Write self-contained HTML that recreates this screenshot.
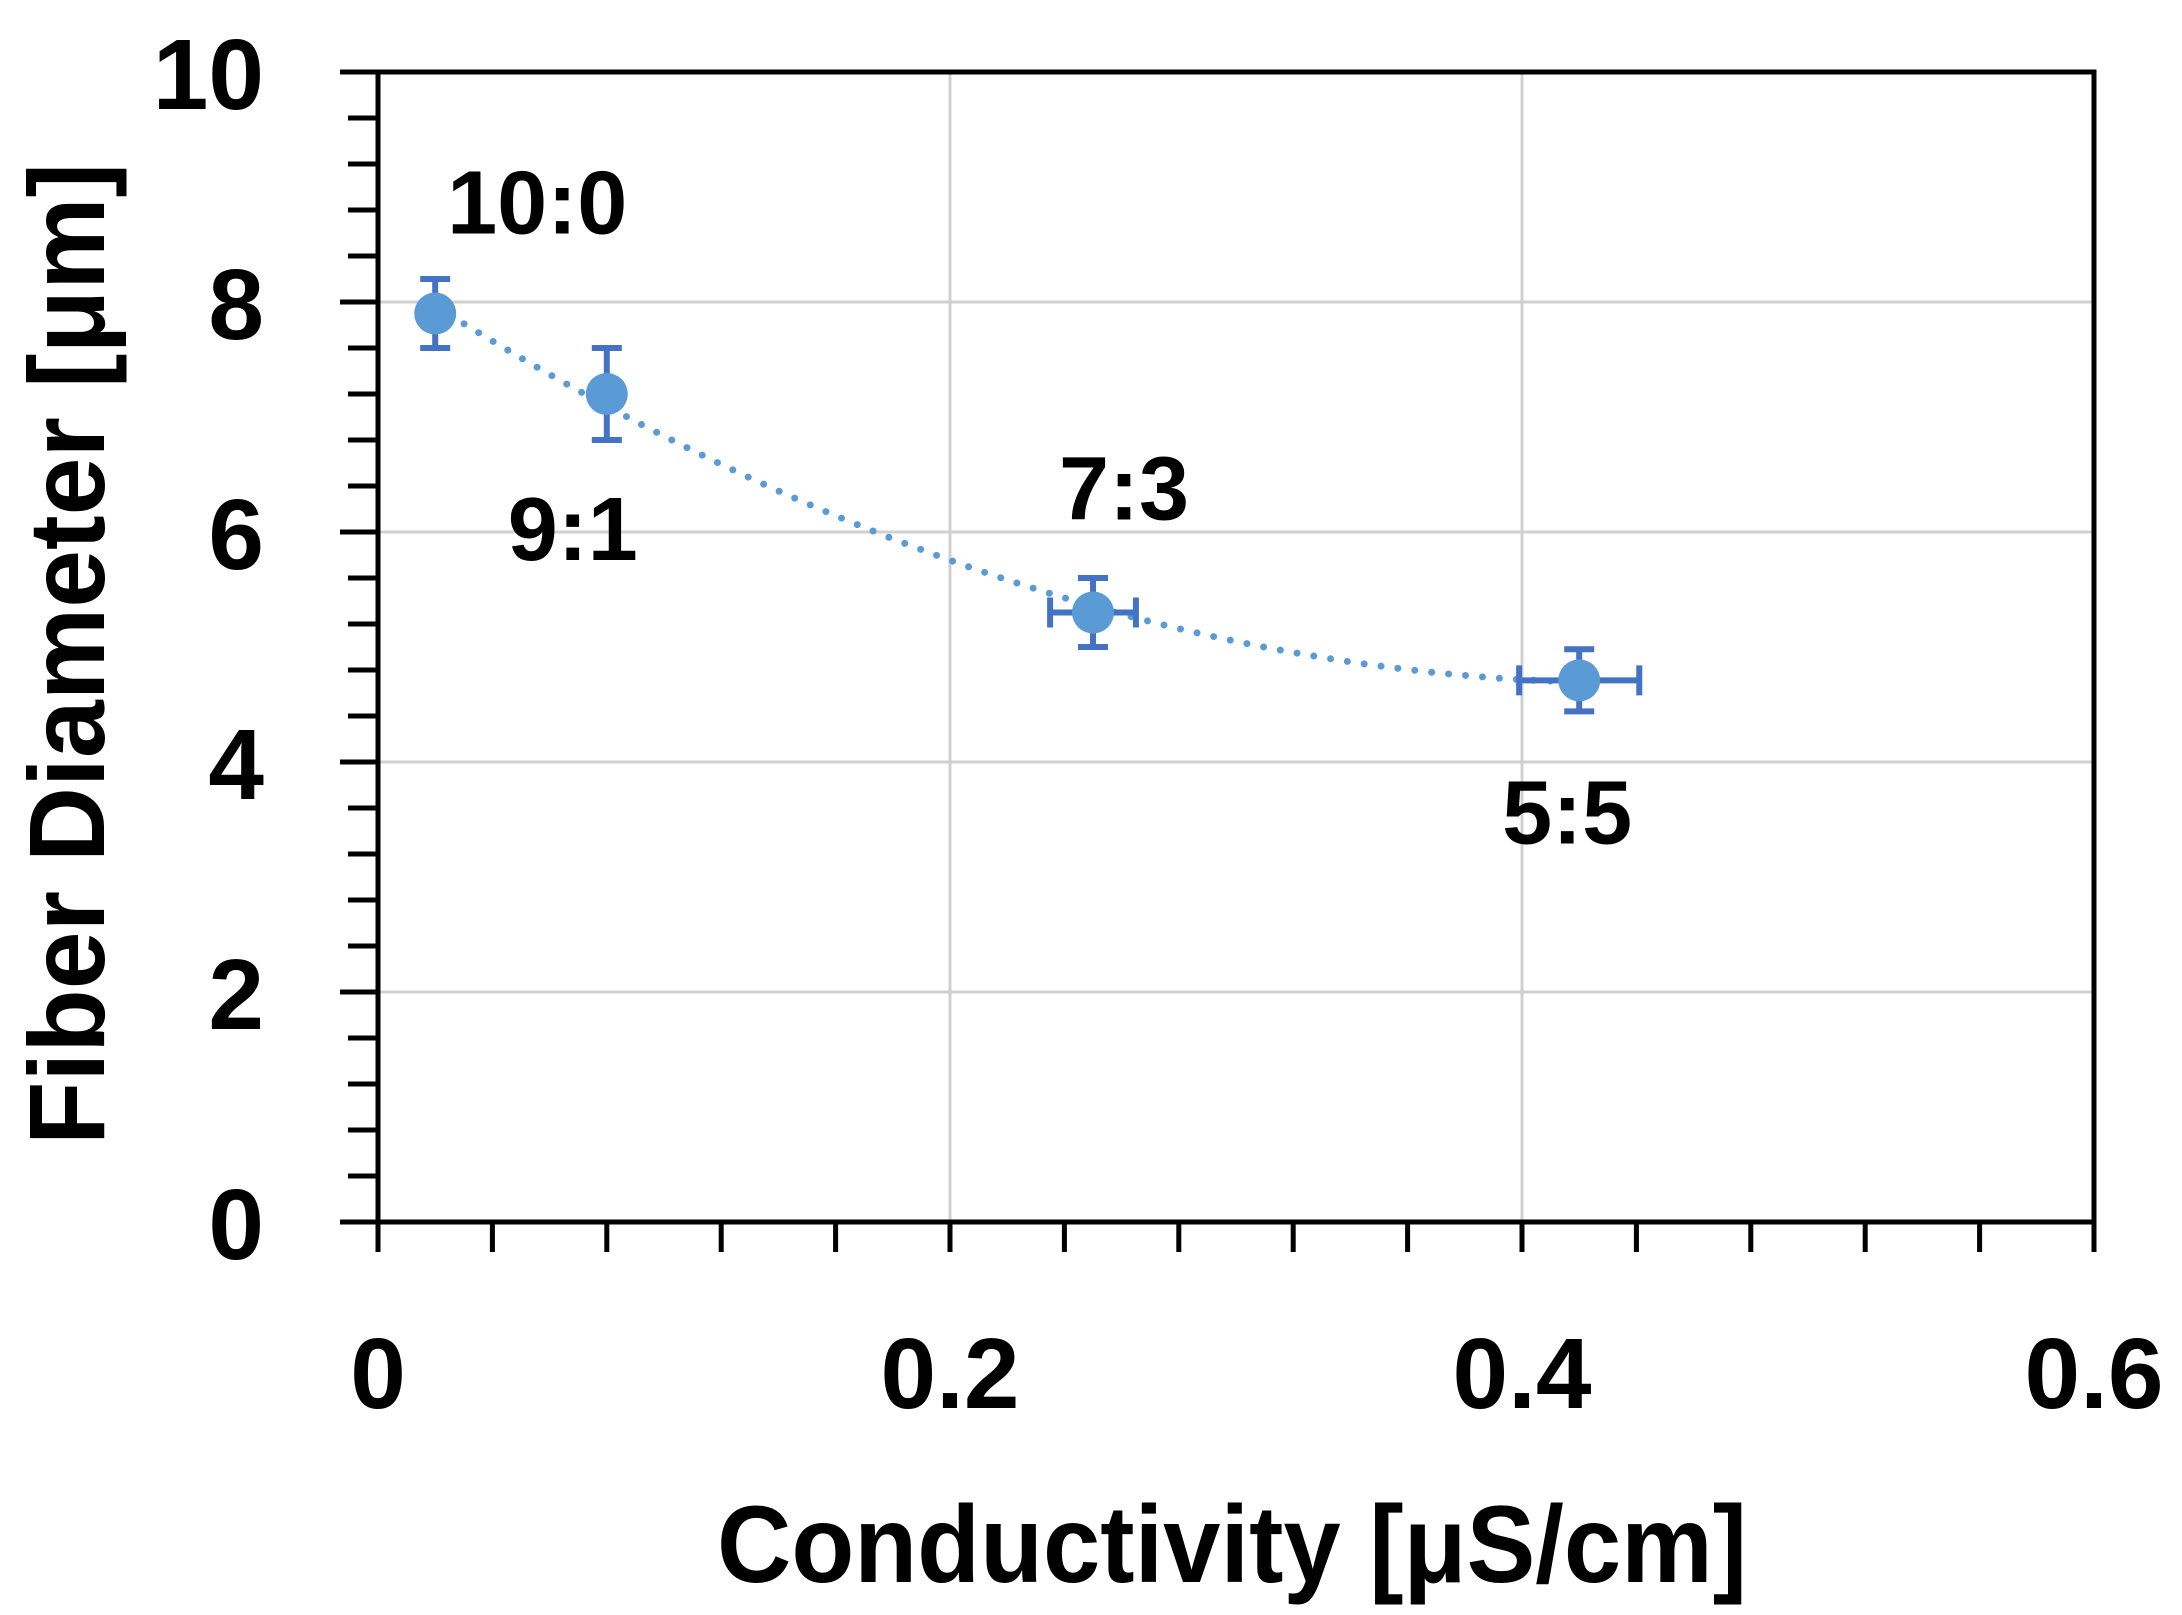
<!DOCTYPE html>
<html><head><meta charset="utf-8"><style>
html,body{margin:0;padding:0;background:#fff;}
svg{display:block;}
text{font-family:"Liberation Sans",sans-serif;font-weight:bold;fill:#000;}
</style></head><body>
<svg id="chart" width="2182" height="1615" viewBox="0 0 2182 1615" xmlns="http://www.w3.org/2000/svg">
<g id="grid"></g>
<g id="axes"></g>
<g id="series"></g>
<g id="labels"></g>
<text x="0" y="0" font-size="100" text-anchor="middle" transform="translate(104,654) rotate(-90) scale(1.04,1.08)">Fiber Diameter [μm]</text>
<text x="0" y="0" font-size="100" text-anchor="middle" transform="translate(1232,1582) scale(1.03,1.1)">Conductivity [μS/cm]</text>
</svg>
<script>
const xVals = [0.02, 0.08, 0.25, 0.42];
const yVals = [7.9, 7.2, 5.3, 4.71];
const yErr = [0.3, 0.4, 0.3, 0.27];
const xErr = [0, 0, 0.015, 0.021];
const pointLabels = ["10:0", "9:1", "7:3", "5:5"];
const xTickLabels = ["0", "0.2", "0.4", "0.6"];
const yTickLabels = ["0", "2", "4", "6", "8", "10"];

const X0=378, X1=2094, Y0=1222, Y1=72;
const xMax=0.6, yMax=10;
const sx = v => X0 + v/xMax*(X1-X0);
const sy = v => Y0 - v/yMax*(Y0-Y1);
const NS="http://www.w3.org/2000/svg";
function mk(parent, tag, attrs){const e=document.createElementNS(NS,tag);for(const k in attrs)e.setAttribute(k,attrs[k]);parent.appendChild(e);return e;}
const grid=document.getElementById('grid'), axes=document.getElementById('axes'), series=document.getElementById('series'), labels=document.getElementById('labels');

yTickLabels.forEach((t,i)=>{ const v=parseFloat(t); if(v===0||v===yMax) return;
  const l=mk(grid,'line',{x1:X0,x2:X1,y1:sy(v),y2:sy(v),stroke:'#d0d0d0','stroke-width':3});
  
  });
xTickLabels.forEach((t,i)=>{ const v=parseFloat(t); if(v===0||v===xMax) return;
  const l=mk(grid,'line',{x1:sx(v),x2:sx(v),y1:Y1,y2:Y0,stroke:'#d0d0d0','stroke-width':3});
  
  });

const fr=mk(axes,'rect',{x:X0,y:Y1,width:X1-X0,height:Y0-Y1,fill:'none',stroke:'#000','stroke-width':5});


for(let i=0;i<=25;i++){ const v=i*0.4; const major=(i%5===0);
  const t=mk(axes,'line',{x1:major?X0-38:X0-30,x2:X0,y1:sy(v),y2:sy(v),stroke:'#000','stroke-width':5});
  
  }
for(let i=0;i<=15;i++){ const v=i*0.04;
  const t=mk(axes,'line',{x1:sx(v),x2:sx(v),y1:Y0,y2:Y0+30,stroke:'#000','stroke-width':5});
  
  }
yTickLabels.forEach(t=>{ const e=mk(axes,'text',{x:264,y:sy(parseFloat(t))+37,'font-size':100,'text-anchor':'end'}); e.textContent=t;
  
  });
xTickLabels.forEach(t=>{ const e=mk(axes,'text',{x:sx(parseFloat(t)),y:1408,'font-size':100,'text-anchor':'middle'}); e.textContent=t;
  
  });

(function(){
  const n=xVals.length; let S=[0,0,0,0,0],T=[0,0,0];
  for(let i=0;i<n;i++){let p=1;for(let k=0;k<5;k++){S[k]+=p;if(k<3)T[k]+=p*yVals[i];p*=xVals[i];}}
  const M=[[S[0],S[1],S[2],T[0]],[S[1],S[2],S[3],T[1]],[S[2],S[3],S[4],T[2]]];
  for(let i=0;i<3;i++){for(let j=i+1;j<3;j++){const f=M[j][i]/M[i][i];for(let k=i;k<4;k++)M[j][k]-=f*M[i][k];}}
  const c=[0,0,0];for(let i=2;i>=0;i--){let s=M[i][3];for(let k=i+1;k<3;k++)s-=M[i][k]*c[k];c[i]=s/M[i][i];}
  let d='';const a=xVals[0],b=xVals[n-1];
  for(let i=0;i<=60;i++){const x=a+(b-a)*i/60;const y=c[0]+c[1]*x+c[2]*x*x;d+=(i?'L':'M')+sx(x).toFixed(1)+' '+sy(y).toFixed(1);}
  const p=mk(series,'path',{d:d,fill:'none',stroke:'#5b9bd5','stroke-width':7,'stroke-dasharray':'0 17','stroke-linecap':'round'});
  
  
})();

xVals.forEach((x,i)=>{
  const cx=sx(x), cy=sy(yVals[i]);
  const g=mk(series,'g',{stroke:'#4472c4','stroke-width':6,fill:'none'});
  
  
  const yt=sy(yVals[i]+yErr[i]), yb=sy(yVals[i]-yErr[i]);
  mk(g,'line',{x1:cx,x2:cx,y1:yt,y2:yb}); mk(g,'line',{x1:cx-15,x2:cx+15,y1:yt,y2:yt}); mk(g,'line',{x1:cx-15,x2:cx+15,y1:yb,y2:yb});
  if(xErr[i]>0){const xl=sx(x-xErr[i]),xr=sx(x+xErr[i]);
    mk(g,'line',{x1:xl,x2:xr,y1:cy,y2:cy}); mk(g,'line',{x1:xl,x2:xl,y1:cy-15,y2:cy+15}); mk(g,'line',{x1:xr,x2:xr,y1:cy-15,y2:cy+15});}
  const m=mk(series,'circle',{cx:cx,cy:cy,r:21,fill:'#5b9bd5'});
  
  
});

const labelOffsets=[[102,-80],[-34,166],[31,-93],[-12,163]];
pointLabels.forEach((t,i)=>{
  const e=mk(labels,'text',{x:sx(xVals[i])+labelOffsets[i][0],y:sy(yVals[i])+labelOffsets[i][1],'font-size':90,'text-anchor':'middle'});
  e.textContent=t;
  
  
});
</script>
</body></html>
